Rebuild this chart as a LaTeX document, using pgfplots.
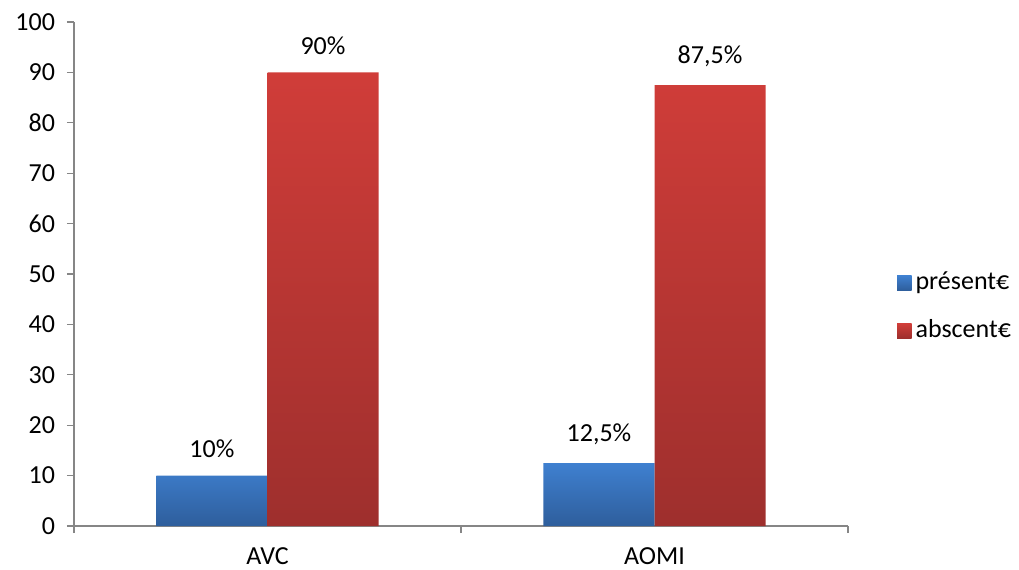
\documentclass[border=0pt]{standalone}
\usepackage{pgfplots}
\pgfplotsset{compat=1.18}
\usepackage{fontspec}
\setmainfont{Carlito}

\definecolor{bluetop}{HTML}{3F80D0}
\definecolor{bluebot}{HTML}{2E5E9C}
\definecolor{redtop}{HTML}{D03D39}
\definecolor{redbot}{HTML}{9E2F2D}
\definecolor{axisgray}{HTML}{868686}

\begin{document}
\begin{tikzpicture}
\fontsize{13}{15.6}\selectfont
\path[use as bounding box] (0,0) rectangle (509.5pt,284.5pt);
\begin{axis}[
  at={(37pt,21.5pt)}, anchor=south west,
  scale only axis,
  width=387pt, height=252pt,
  xmin=-0.5, xmax=1.5,
  ymin=0, ymax=100,
  ytick={0,10,...,100},
  xtick={0,1},
  xticklabels={AVC,AOMI},
  minor xtick={-0.5,0.5,1.5},
  major x tick style={draw=none},
  tick align=outside,
  major tick length=3.5pt,
  minor tick length=3.5pt,
  tick style={axisgray, line width=0.6pt},
  axis x line*=bottom,
  axis y line*=left,
  axis line style={axisgray, line width=0.6pt, -},
  ticklabel style={font=\fontsize{13}{15.6}\selectfont, text=black},
  /pgf/number format/assume math mode=true,
  xticklabel style={inner sep=0pt, yshift=-7pt},
  yticklabel style={xshift=-1.5pt},
  ybar=0pt,
  bar width=0.287,
  nodes near coords,
  point meta=explicit symbolic,
  every node near coord/.append style={font=\fontsize{13}{15.6}\selectfont, text=black, yshift=4.5pt},
  legend style={
    at={(1.063,0.4345)}, anchor=west,
    draw=none, fill=none,
    font=\fontsize{13}{15.6}\selectfont,
    row sep=9pt,
    inner sep=0pt,
    nodes={inner xsep=2pt},
  },
  legend cell align=left,
  legend image code/.code={\path[#1] (0pt,-3.6pt) rectangle (7.2pt,3.6pt);},
]
\addplot[draw=none, top color=bluetop, bottom color=bluebot]
  coordinates {(0,10) [10\%] (1,12.5) [12,5\%]};
\addlegendentry{présent€}
\addplot[draw=none, top color=redtop, bottom color=redbot]
  coordinates {(0,90) [90\%] (1,87.5) [87,5\%]};
\addlegendentry{abscent€}
\end{axis}
\end{tikzpicture}
\end{document}
